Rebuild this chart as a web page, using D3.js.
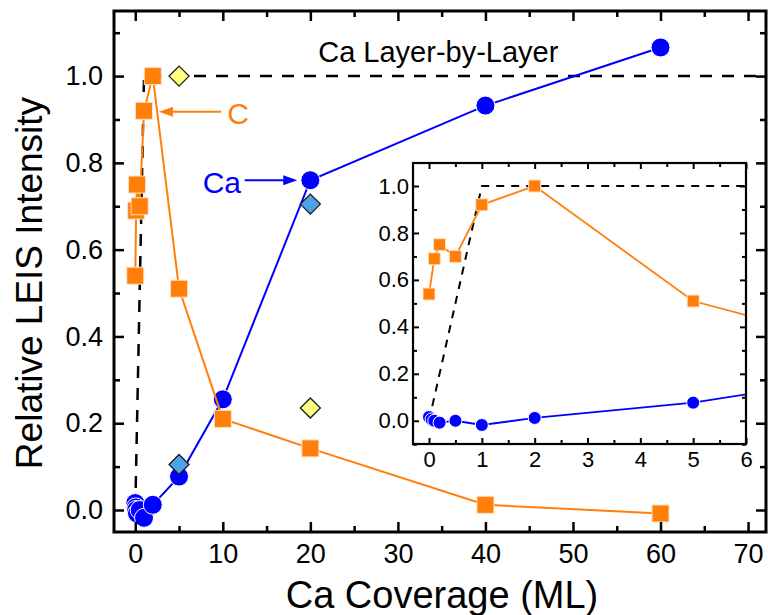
<!DOCTYPE html>
<html>
<head>
<meta charset="utf-8">
<script src="https://cdn.jsdelivr.net/npm/d3@7"></script>
<style>
  html, body { margin: 0; padding: 0; background: #fff; }
  svg { display: block; font-family: "Liberation Sans", Arial, sans-serif; }
</style>
</head>
<body>
<svg id="chart" width="768" height="615"></svg>
<script>
// Ca coverage (ML) and relative LEIS intensities
const carbonCoverage = [0, 0.1, 0.2, 0.5, 1, 2, 5, 10, 20, 40, 60];
const carbonIntensity = [0.54, 0.69, 0.75, 0.70, 0.92, 1.0, 0.51, 0.21, 0.142, 0.012, -0.008];

const calciumCoverage = [0, 0.05, 0.1, 0.2, 0.5, 1, 2, 5, 10, 20, 40, 60];
const calciumIntensity = [0.016, 0.006, 0.0, -0.008, 0.0, -0.018, 0.012, 0.077, 0.255, 0.76, 0.932, 1.066];

// reference points (diamonds)
const blueDiamondCoverage = [5, 20];
const blueDiamondIntensity = [0.105, 0.705];
const yellowDiamondCoverage = [5, 20];
const yellowDiamondIntensity = [1.0, 0.235];

// ideal layer-by-layer growth
const layerCoverage = [0, 1, 100];
const layerIntensity = [0, 1, 1];

const mainXTicks = [0, 10, 20, 30, 40, 50, 60, 70];
const mainYTicks = [0, 0.2, 0.4, 0.6, 0.8, 1.0];
const insetXTicks = [0, 1, 2, 3, 4, 5, 6];
const insetYTicks = [0, 0.2, 0.4, 0.6, 0.8, 1.0];

const ORANGE = "#ff7f0a";
const BLUE = "#0000ff";
const LIGHTBLUE = "#4ea3e8";
const YELLOW = "#ffff80";

const svg = d3.select("#chart");

const carbon = carbonCoverage.map((x, i) => ({x, y: carbonIntensity[i]}));
const calcium = calciumCoverage.map((x, i) => ({x, y: calciumIntensity[i]}));
const blueDiamonds = blueDiamondCoverage.map((x, i) => ({x, y: blueDiamondIntensity[i]}));
const yellowDiamonds = yellowDiamondCoverage.map((x, i) => ({x, y: yellowDiamondIntensity[i]}));
const layer = layerCoverage.map((x, i) => ({x, y: layerIntensity[i]}));

function drawPanel(g, opt) {
  const {x, y, id} = opt;
  const [x0, x1] = x.range();
  const [y0, y1] = y.range();

  g.append("rect").attr("x", x0).attr("y", y1).attr("width", x1 - x0).attr("height", y0 - y1)
    .attr("fill", "#fff");

  g.append("clipPath").attr("id", id)
    .append("rect").attr("x", x0).attr("y", y1).attr("width", x1 - x0).attr("height", y0 - y1);

  const plot = g.append("g").attr("clip-path", `url(#${id})`);
  const line = d3.line().x(d => x(d.x)).y(d => y(d.y));

  plot.append("path").datum(layer).attr("d", line).attr("fill", "none")
    .attr("stroke", "#000").attr("stroke-width", opt.dashWidth).attr("stroke-dasharray", opt.dash);

  if (opt.drawTitle) opt.drawTitle(g);

  // Ca series
  plot.append("path").datum(calcium).attr("d", line).attr("fill", "none")
    .attr("stroke", BLUE).attr("stroke-width", opt.lineWidth);
  plot.selectAll(".ca").data(calcium).join("circle")
    .attr("cx", d => x(d.x)).attr("cy", d => y(d.y)).attr("r", opt.r)
    .attr("fill", BLUE).attr("stroke", "#fff").attr("stroke-width", 1);

  // C series
  plot.append("path").datum(carbon).attr("d", line).attr("fill", "none")
    .attr("stroke", ORANGE).attr("stroke-width", opt.lineWidth);
  plot.selectAll(".c").data(carbon).join("rect")
    .attr("x", d => x(d.x) - opt.sq / 2).attr("y", d => y(d.y) - opt.sq / 2)
    .attr("width", opt.sq).attr("height", opt.sq)
    .attr("fill", ORANGE).attr("stroke", "#ffe0c0").attr("stroke-width", 1);

  if (opt.diamonds) {
    const dia = (cx, cy, h) => `M${cx},${cy - h}L${cx + h},${cy}L${cx},${cy + h}L${cx - h},${cy}Z`;
    plot.selectAll(".bd").data(blueDiamonds).join("path")
      .attr("d", d => dia(x(d.x), y(d.y), 10))
      .attr("fill", LIGHTBLUE).attr("stroke", "#1a1a1a").attr("stroke-width", 1.3);
    plot.selectAll(".yd").data(yellowDiamonds).join("path")
      .attr("d", d => dia(x(d.x), y(d.y), 10))
      .attr("fill", YELLOW).attr("stroke", "#1a1a1a").attr("stroke-width", 1.3);
  }

  // axes: ticks point inward on all four sides
  const ax = g.append("g").attr("class", "axes");
  const styleAxis = sel => {
    sel.select(".domain").remove();
    sel.selectAll(".tick line").attr("stroke", "#000").attr("stroke-width", opt.tickWidth);
  };
  const minorX = opt.minorX, minorY = opt.minorY;

  ax.append("g").attr("transform", `translate(0,${y0})`)
    .call(d3.axisBottom(x).tickValues(opt.xTicks).tickSizeInner(-opt.major).tickSizeOuter(0)
      .tickPadding(opt.xPad).tickFormat(d3.format("d")))
    .call(styleAxis)
    .selectAll("text").attr("font-size", opt.font).attr("fill", "#000");
  ax.append("g").attr("transform", `translate(0,${y0})`)
    .call(d3.axisBottom(x).tickValues(minorX).tickSizeInner(-opt.minor).tickSizeOuter(0).tickFormat(""))
    .call(styleAxis);
  ax.append("g").attr("transform", `translate(0,${y1})`)
    .call(d3.axisTop(x).tickValues(opt.xTicks).tickSizeInner(-opt.major).tickSizeOuter(0).tickFormat(""))
    .call(styleAxis);
  ax.append("g").attr("transform", `translate(0,${y1})`)
    .call(d3.axisTop(x).tickValues(minorX).tickSizeInner(-opt.minor).tickSizeOuter(0).tickFormat(""))
    .call(styleAxis);

  ax.append("g").attr("transform", `translate(${x0},0)`)
    .call(d3.axisLeft(y).tickValues(opt.yTicks).tickSizeInner(-opt.major).tickSizeOuter(0)
      .tickPadding(opt.yPad).tickFormat(d3.format(".1f")))
    .call(styleAxis)
    .selectAll("text").attr("font-size", opt.font).attr("fill", "#000");
  ax.append("g").attr("transform", `translate(${x0},0)`)
    .call(d3.axisLeft(y).tickValues(minorY).tickSizeInner(-opt.minor).tickSizeOuter(0).tickFormat(""))
    .call(styleAxis);
  ax.append("g").attr("transform", `translate(${x1},0)`)
    .call(d3.axisRight(y).tickValues(opt.yTicks).tickSizeInner(-opt.major).tickSizeOuter(0).tickFormat(""))
    .call(styleAxis);
  ax.append("g").attr("transform", `translate(${x1},0)`)
    .call(d3.axisRight(y).tickValues(minorY).tickSizeInner(-opt.minor).tickSizeOuter(0).tickFormat(""))
    .call(styleAxis);

  g.append("rect").attr("x", x0).attr("y", y1).attr("width", x1 - x0).attr("height", y0 - y1)
    .attr("fill", "none").attr("stroke", "#000").attr("stroke-width", opt.frame);
}

// main panel
const xMain = d3.scaleLinear().domain([-2.43, 72.05]).range([114, 766]);
const yMain = d3.scaleLinear().domain([-0.0507, 1.15]).range([532, 11]);
const mainG = svg.append("g");
drawPanel(mainG, {
  x: xMain, y: yMain, id: "clipMain",
  xTicks: mainXTicks, yTicks: mainYTicks,
  minorX: [5, 15, 25, 35, 45, 55, 65], minorY: [0.1, 0.3, 0.5, 0.7, 0.9, 1.1],
  major: 10, minor: 6, tickWidth: 2.5, frame: 3,
  font: 27, xPad: 12, yPad: 11,
  r: 9.5, sq: 17, lineWidth: 2, dash: "12,10", dashWidth: 2.5, diamonds: true,
  drawTitle: g => g.append("text").attr("x", xMain(20.9)).attr("y", yMain(1.032))
    .attr("font-size", 29).attr("fill", "#000").text("Ca Layer-by-Layer")
});

// annotations
function arrow(g, xFrom, xTo, yPos, color) {
  const dir = Math.sign(xTo - xFrom);
  g.append("line").attr("x1", xFrom).attr("y1", yPos).attr("x2", xTo - dir * 10).attr("y2", yPos)
    .attr("stroke", color).attr("stroke-width", 2);
  g.append("path")
    .attr("d", `M${xTo},${yPos}L${xTo - dir * 14},${yPos - 5}L${xTo - dir * 14},${yPos + 5}Z`)
    .attr("fill", color);
}
arrow(mainG, xMain(9.8), xMain(2.7), yMain(0.918), ORANGE);
mainG.append("text").attr("x", xMain(10.5)).attr("y", yMain(0.89))
  .attr("font-size", 30).attr("fill", ORANGE).text("C");
arrow(mainG, xMain(12.5), xMain(18.5), yMain(0.76), BLUE);
mainG.append("text").attr("x", xMain(7.7)).attr("y", yMain(0.73))
  .attr("font-size", 30).attr("fill", BLUE).text("Ca");

// axis titles
svg.append("text").attr("x", 442).attr("y", 608).attr("text-anchor", "middle")
  .attr("font-size", 38).attr("fill", "#000").text("Ca Coverage (ML)");
svg.append("text").attr("transform", "translate(42,283) rotate(-90)").attr("text-anchor", "middle")
  .attr("font-size", 37).attr("fill", "#000").text("Relative LEIS Intensity");

// inset: low-coverage region
const xIn = d3.scaleLinear().domain([-0.303, 6.0]).range([413, 746]);
const yIn = d3.scaleLinear().domain([-0.099, 1.098]).range([444, 163]);
drawPanel(svg.append("g"), {
  x: xIn, y: yIn, id: "clipInset",
  xTicks: insetXTicks, yTicks: insetYTicks,
  minorX: [0.5, 1.5, 2.5, 3.5, 4.5, 5.5], minorY: [-0.1, 0.1, 0.3, 0.5, 0.7, 0.9, 1.1],
  major: 6, minor: 4, tickWidth: 2, frame: 2.2,
  font: 22, xPad: 7, yPad: 4,
  r: 6.5, sq: 12, lineWidth: 1.8, dash: "8,7", dashWidth: 2, diamonds: false
});
</script>
</body>
</html>
